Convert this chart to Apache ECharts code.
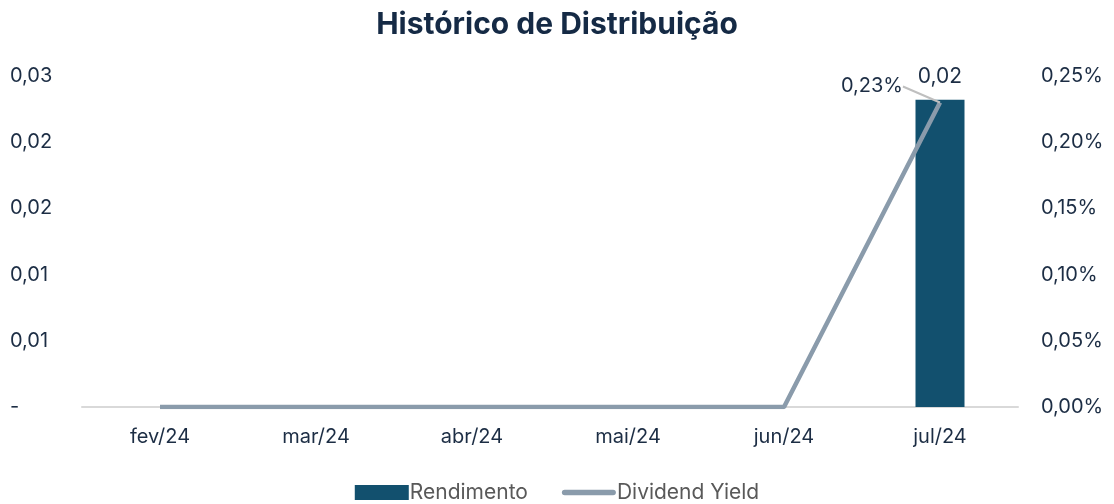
<!DOCTYPE html>
<html>
<head>
<meta charset="utf-8">
<script src="https://cdn.jsdelivr.net/npm/echarts@6/dist/echarts.min.js"></script>
<style>
  html, body { margin: 0; padding: 0; background: #fff; }
  #chart { width: 1114px; height: 504px; }
</style>
</head>
<body>
<div id="chart"></div>
<script>
const months = ['fev/24', 'mar/24', 'abr/24', 'mai/24', 'jun/24', 'jul/24'];
const rendimento = [0, 0, 0, 0, 0, 0.0232];
const dividendYield = [0, 0, 0, 0, 0, 0.23];

const fontFamily = 'Inter, "Noto Sans", sans-serif';
const textColor = '#1c2d44';

// arredonda sem o erro de ponto flutuante (0.015 -> 0,02)
const fmt = (v, d) => (Math.round(v * Math.pow(10, d) + 1e-9) / Math.pow(10, d)).toFixed(d).replace('.', ',');

const chart = echarts.init(document.getElementById('chart'));
chart.setOption({
  animation: false,
  title: {
    text: 'Histórico de Distribuição',
    left: 'center',
    top: 5,
    textStyle: { fontFamily, fontSize: 30, fontWeight: 'bold', color: '#152a45' },
  },
  grid: { left: 82, right: 96, top: 76, bottom: 97 },
  legend: {
    top: 477,
    left: 'center',
    itemGap: 34,
    itemWidth: 54,
    itemHeight: 15,
    textStyle: { fontFamily, fontSize: 21, color: '#595959', padding: [0, 0, 0, -4] },
    data: [
      { name: 'Rendimento', icon: 'rect' },
      { name: 'Dividend Yield', icon: 'path://M3,0 L55,0 A3,3 0 0 1 55,6 L3,6 A3,3 0 0 1 3,0 Z' },
    ],
  },
  xAxis: {
    type: 'category',
    data: months,
    axisTick: { show: false },
    axisLine: { lineStyle: { color: '#d9d9d9', width: 2 } },
    axisLabel: { fontFamily, fontSize: 20, color: textColor, margin: 20 },
  },
  yAxis: [
    {
      type: 'value',
      min: 0,
      max: 0.025,
      interval: 0.005,
      splitLine: { show: false },
      axisLabel: {
        fontFamily, fontSize: 20, color: textColor, align: 'left', margin: 72,
        formatter: (v) => (v === 0 ? '-' : fmt(v, 2)),
      },
    },
    {
      type: 'value',
      min: 0,
      max: 0.25,
      interval: 0.05,
      splitLine: { show: false },
      axisLabel: {
        fontFamily, fontSize: 20, color: textColor, align: 'left', margin: 23,
        formatter: (v) => fmt(v, 2) + '%',
      },
    },
  ],
  series: [
    {
      name: 'Rendimento',
      type: 'bar',
      data: rendimento,
      barWidth: 49,
      itemStyle: { color: '#12506e' },
      label: {
        show: true,
        position: 'top',
        distance: 13,
        fontFamily, fontSize: 21, color: textColor,
        formatter: (p) => (p.value ? fmt(p.value, 2) : ''),
      },
    },
    {
      name: 'Dividend Yield',
      type: 'line',
      yAxisIndex: 1,
      // só o último ponto tem rótulo (os zeros ficam sem)
      data: dividendYield.map((v) => ({
        value: v,
        label: { show: v > 0 },
        labelLine: { show: v > 0 },
      })),
      symbol: 'circle',
      symbolSize: 0.1,
      lineStyle: { color: '#8a9bab', width: 4.5 },
      itemStyle: { color: '#8a9bab' },
      label: {
        position: 'left',
        fontFamily, fontSize: 20, color: textColor,
        formatter: (p) => fmt(p.value, 2) + '%',
      },
      labelLayout: { dx: -32, dy: -16 },
      labelLine: { lineStyle: { color: '#bfbfbf', width: 2 } },
    },
  ],
});
</script>
</body>
</html>
